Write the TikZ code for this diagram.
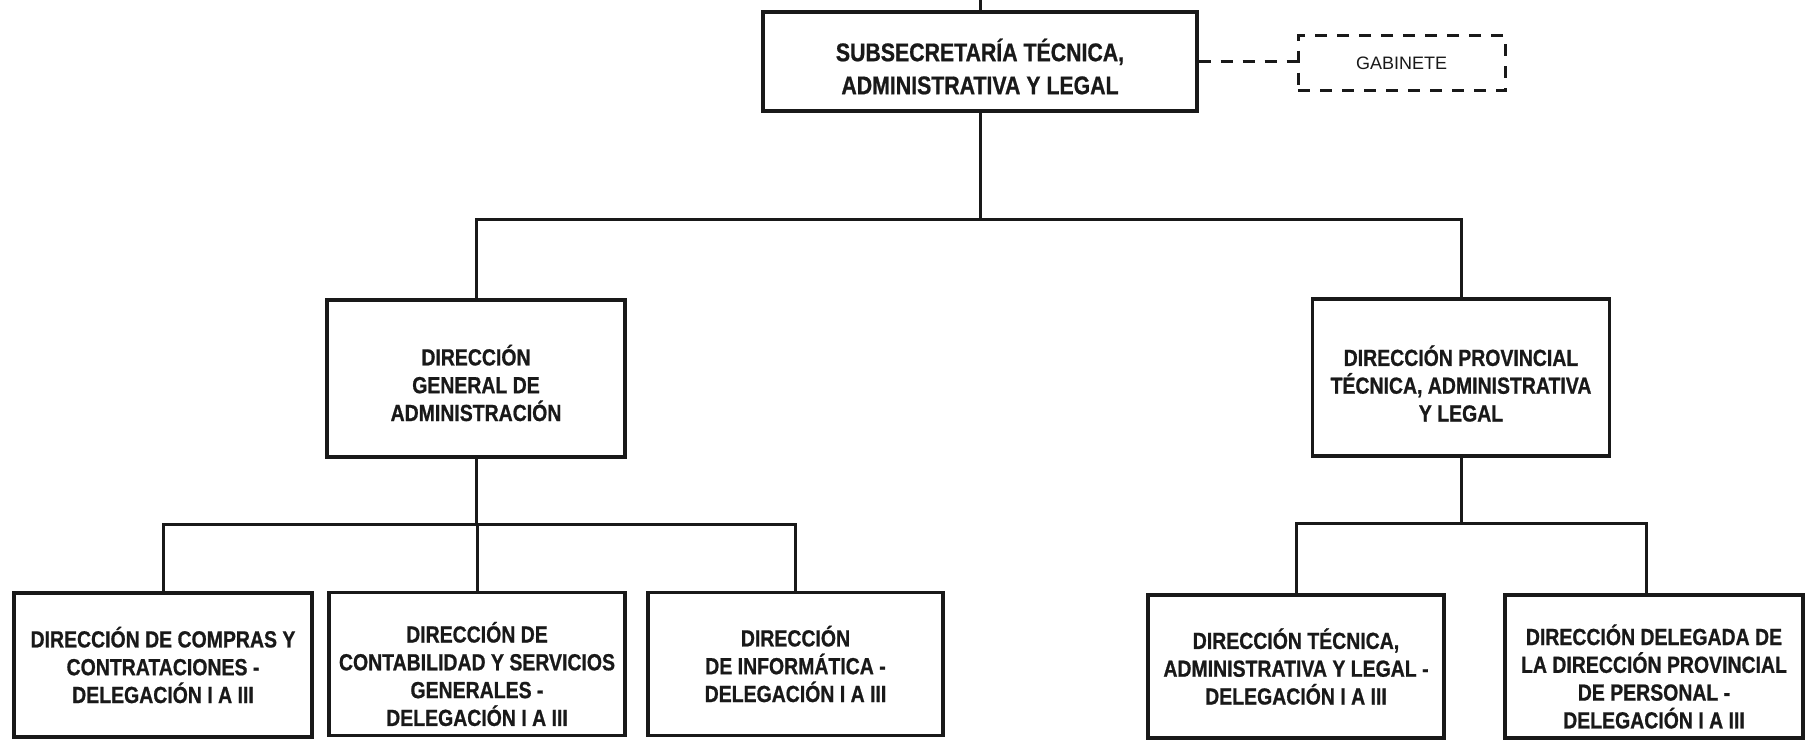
\documentclass[tikz,border=0pt]{standalone}
\usepackage{fontspec}
\setmainfont{Liberation Sans}[FakeStretch=0.835, BoldFeatures={FakeBold=0.8}]
\newfontfamily\gabfont{Liberation Sans}
\begin{document}
\begin{tikzpicture}[x=1pt,y=-1pt,
  box/.style={draw=black!90, line width=3.1pt, rectangle, inner sep=0pt},
  lbl/.style={inner sep=0pt, align=center, text=black!90,
    font=\bfseries\fontsize{23.3}{27.8}\selectfont},
  toplbl/.style={lbl, font=\bfseries\fontsize{25.5}{33}\selectfont},
  gabbox/.style={draw=black!90, line width=3pt, dash pattern=on 12pt off 10pt, rectangle,
    inner sep=0pt, font=\gabfont\fontsize{18}{22}\selectfont, text=black!90},
  conn/.style={draw=black!90, line width=3pt},
  dconn/.style={conn, dash pattern=on 12pt off 10pt}]
\useasboundingbox (0,0) rectangle (1810,747);

% boxes
\node[box, minimum width=434pt, minimum height=99pt] (top) at (980,61.5) {};
\node[gabbox, minimum width=207pt, minimum height=55pt] (gab) at (1401.5,63) {GABINETE};
\node[box, minimum width=298pt, minimum height=157pt] (dga) at (476,378.5) {};
\node[box, minimum width=297pt, minimum height=157pt] (dpt) at (1461,377.5) {};
\node[box, minimum width=298pt, minimum height=144pt] (b1) at (163,665) {};
\node[box, minimum width=296pt, minimum height=143pt] (b2) at (477,664) {};
\node[box, minimum width=295pt, minimum height=143pt] (b3) at (795.5,664) {};
\node[box, minimum width=296pt, minimum height=143pt] (b4) at (1296,666.5) {};
\node[box, minimum width=298pt, minimum height=143pt] (b5) at (1654,666.5) {};

% texts
\node[toplbl] (topt) at ([yshift=-5pt]top.center) {SUBSECRETARÍA TÉCNICA,\\ADMINISTRATIVA Y LEGAL};
\node[lbl] (dgat) at ([yshift=-4.5pt]dga.center) {DIRECCIÓN\\GENERAL DE\\ADMINISTRACIÓN};
\node[lbl] (dptt) at ([yshift=-6pt]dpt.center) {DIRECCIÓN PROVINCIAL\\TÉCNICA, ADMINISTRATIVA\\Y LEGAL};
\node[lbl] (b1t) at ([yshift=0pt]b1.center) {DIRECCIÓN DE COMPRAS Y\\CONTRATACIONES -\\DELEGACIÓN I A III};
\node[lbl] (b2t) at ([yshift=-10pt]b2.center) {DIRECCIÓN DE\\CONTABILIDAD Y SERVICIOS\\GENERALES -\\DELEGACIÓN I A III};
\node[lbl] (b3t) at ([yshift=0pt]b3.center) {DIRECCIÓN\\DE INFORMÁTICA -\\DELEGACIÓN I A III};
\node[lbl] (b4t) at ([yshift=0pt]b4.center) {DIRECCIÓN TÉCNICA,\\ADMINISTRATIVA Y LEGAL -\\DELEGACIÓN I A III};
\node[lbl] (b5t) at ([yshift=-10pt]b5.center) {DIRECCIÓN DELEGADA DE\\LA DIRECCIÓN PROVINCIAL\\DE PERSONAL -\\DELEGACIÓN I A III};

% bus coordinates
\coordinate (in) at (980,0);
\coordinate (busT) at (0,219);
\coordinate (busL) at (0,524);
\coordinate (busR) at (0,523);
\coordinate (b5in) at ([xshift=-8pt]b5.north);

% connectors
\draw[conn] (in) -- (top.north);
\draw[dconn] (top.east) -- (top.east -| gab.west);
\draw[conn] (top.south) -- (top.south |- busT);
\draw[conn] (dga.north) |- (busT -| dpt.north) -- (dpt.north);

\draw[conn] (dga.south) -- (dga.south |- busL);
\draw[conn] (b1.north) |- (busL -| b3.north) -- (b3.north);
\draw[conn] (b2.north) -- (b2.north |- busL);

\draw[conn] (dpt.south) -- (dpt.south |- busR);
\draw[conn] (b4.north) |- (busR -| b5in) -- (b5in);
\end{tikzpicture}
\end{document}
